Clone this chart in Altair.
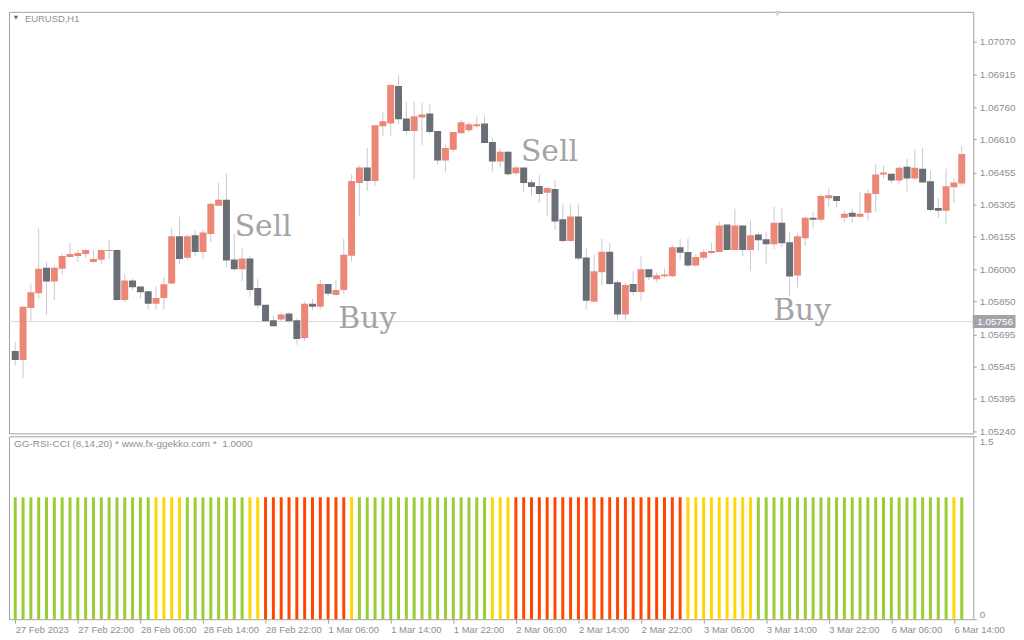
import altair as alt
import pandas as pd

# ---------------- data (EURUSD, H1) ----------------
OPEN = [1.05618, 1.05576, 1.05820, 1.05889, 1.06009, 1.05944, 1.06004, 1.06059, 1.06064, 1.06073,
        1.06036, 1.06046, 1.06087, 1.06092, 1.05857, 1.05949, 1.05921, 1.05898, 1.05839, 1.05866,
        1.05935, 1.06156, 1.06055, 1.06161, 1.06082, 1.06167, 1.06300, 1.06328, 1.06047, 1.06001,
        1.06052, 1.05914, 1.05835, 1.05762, 1.05766, 1.05794, 1.05762, 1.05679, 1.05840, 1.05826,
        1.05932, 1.05881, 1.05904, 1.06065, 1.06406, 1.06479, 1.06415, 1.06673, 1.06686, 1.06861,
        1.06709, 1.06650, 1.06714, 1.06732, 1.06650, 1.06512, 1.06562, 1.06640, 1.06654, 1.06673,
        1.06686, 1.06599, 1.06507, 1.06553, 1.06452, 1.06479, 1.06410, 1.06392, 1.06360, 1.06378,
        1.06236, 1.06134, 1.06249, 1.06056, 1.05849, 1.05987, 1.06084, 1.05941, 1.05789, 1.05932,
        1.05895, 1.06001, 1.05955, 1.05969, 1.05969, 1.06105, 1.06082, 1.06019, 1.06055, 1.06078,
        1.06082, 1.06211, 1.06092, 1.06207, 1.06092, 1.06165, 1.06142, 1.06119, 1.06220, 1.06128,
        1.05972, 1.06147, 1.06243, 1.06234, 1.06335, 1.06345, 1.06243, 1.06266, 1.06248, 1.06266,
        1.06354, 1.06446, 1.06450, 1.06418, 1.06483, 1.06427, 1.06473, 1.06414, 1.06289, 1.06276,
        1.06386, 1.06404]
HIGH = [1.05659, 1.05829, 1.05935, 1.06193, 1.06036, 1.06018, 1.06073, 1.06124, 1.06092, 1.06096,
        1.06092, 1.06092, 1.06142, 1.06096, 1.05981, 1.05958, 1.05921, 1.05898, 1.05921, 1.05963,
        1.06197, 1.06248, 1.06165, 1.06184, 1.06188, 1.06314, 1.06406, 1.06452, 1.06167, 1.06098,
        1.06065, 1.05955, 1.05835, 1.05785, 1.05799, 1.05799, 1.05771, 1.05849, 1.05863, 1.05950,
        1.05932, 1.05950, 1.06144, 1.06447, 1.06489, 1.06571, 1.06677, 1.06737, 1.06870, 1.06912,
        1.06788, 1.06788, 1.06783, 1.06778, 1.06650, 1.06585, 1.06645, 1.06705, 1.06691, 1.06719,
        1.06723, 1.06617, 1.06567, 1.06558, 1.06489, 1.06479, 1.06424, 1.06443, 1.06387, 1.06420,
        1.06305, 1.06305, 1.06305, 1.06098, 1.06070, 1.06144, 1.06125, 1.05950, 1.05937, 1.05992,
        1.06061, 1.06001, 1.05987, 1.06004, 1.06115, 1.06142, 1.06147, 1.06073, 1.06096, 1.06128,
        1.06225, 1.06211, 1.06285, 1.06207, 1.06230, 1.06179, 1.06179, 1.06294, 1.06289, 1.06174,
        1.06170, 1.06248, 1.06271, 1.06354, 1.06381, 1.06345, 1.06276, 1.06285, 1.06363, 1.06377,
        1.06496, 1.06487, 1.06450, 1.06487, 1.06519, 1.06565, 1.06570, 1.06464, 1.06335, 1.06473,
        1.06427, 1.06579]
LOW = [1.05550, 1.05489, 1.05753, 1.05862, 1.05788, 1.05857, 1.05977, 1.06055, 1.06036, 1.06055,
       1.06032, 1.06027, 1.06050, 1.05852, 1.05848, 1.05903, 1.05862, 1.05811, 1.05811, 1.05811,
       1.05931, 1.06027, 1.06046, 1.06064, 1.06050, 1.06130, 1.06299, 1.06010, 1.05992, 1.05946,
       1.05872, 1.05817, 1.05757, 1.05734, 1.05757, 1.05753, 1.05647, 1.05665, 1.05808, 1.05812,
       1.05877, 1.05877, 1.05886, 1.06038, 1.06249, 1.06369, 1.06392, 1.06627, 1.06627, 1.06682,
       1.06636, 1.06424, 1.06585, 1.06636, 1.06493, 1.06456, 1.06553, 1.06640, 1.06645, 1.06667,
       1.06594, 1.06461, 1.06479, 1.06438, 1.06443, 1.06364, 1.06346, 1.06314, 1.06254, 1.06185,
       1.06125, 1.06130, 1.06042, 1.05812, 1.05849, 1.05927, 1.05927, 1.05762, 1.05762, 1.05880,
       1.05854, 1.05950, 1.05941, 1.05960, 1.05964, 1.06046, 1.06010, 1.06015, 1.06046, 1.06073,
       1.06082, 1.06092, 1.06092, 1.06064, 1.05995, 1.06092, 1.06023, 1.06096, 1.06105, 1.05875,
       1.05917, 1.06110, 1.06193, 1.06225, 1.06294, 1.06294, 1.06220, 1.06220, 1.06243, 1.06230,
       1.06271, 1.06427, 1.06404, 1.06400, 1.06363, 1.06418, 1.06409, 1.06271, 1.06243, 1.06211,
       1.06312, 1.06395]
CLOSE = [1.05576, 1.05825, 1.05894, 1.06004, 1.05944, 1.06009, 1.06064, 1.06073, 1.06078, 1.06092,
         1.06050, 1.06092, 1.06092, 1.05857, 1.05949, 1.05917, 1.05894, 1.05839, 1.05866, 1.05931,
         1.06156, 1.06050, 1.06156, 1.06082, 1.06174, 1.06309, 1.06328, 1.06042, 1.06001, 1.06052,
         1.05904, 1.05831, 1.05757, 1.05734, 1.05789, 1.05757, 1.05674, 1.05840, 1.05826, 1.05932,
         1.05886, 1.05904, 1.06070, 1.06415, 1.06479, 1.06415, 1.06677, 1.06696, 1.06866, 1.06705,
         1.06650, 1.06719, 1.06728, 1.06645, 1.06512, 1.06571, 1.06645, 1.06691, 1.06682, 1.06682,
         1.06594, 1.06507, 1.06553, 1.06447, 1.06479, 1.06406, 1.06387, 1.06355, 1.06383, 1.06226,
         1.06134, 1.06249, 1.06052, 1.05854, 1.05992, 1.06084, 1.05932, 1.05789, 1.05927, 1.05895,
         1.06001, 1.05964, 1.05973, 1.05977, 1.06105, 1.06079, 1.06019, 1.06059, 1.06082, 1.06087,
         1.06207, 1.06092, 1.06207, 1.06092, 1.06161, 1.06138, 1.06119, 1.06220, 1.06124, 1.05967,
         1.06156, 1.06243, 1.06234, 1.06345, 1.06349, 1.06322, 1.06262, 1.06248, 1.06262, 1.06358,
         1.06446, 1.06455, 1.06418, 1.06478, 1.06427, 1.06478, 1.06409, 1.06280, 1.06276, 1.06391,
         1.06409, 1.06542]

# GG-RSI-CCI histogram state per bar (G = bullish, Y = neutral, R = bearish)
SIGNAL_STATE = (
    "G G G G G G G G G G G G G G G G G G Y Y Y Y G G G G G G G G Y Y".split() +
    "R R R R R R R R R R R Y".split() +
    "G G G G G G G G G G G G G G G G G Y Y Y".split() +
    "R R R R R R R R R R R R R R R R R R R R R R".split() +
    "Y Y Y Y Y Y Y Y Y".split() +
    "G G G G G G G G G G G G G G G G G G G G G G G G G Y G".split()
)
INDICATOR_LEVEL = 1.0

TIME_TICKS = [0, 8, 16, 24, 32, 40, 48, 56, 64, 72, 80, 88, 96, 104, 112, 120]
TIME_LABELS = ["27 Feb 2023", "27 Feb 22:00", "28 Feb 06:00", "28 Feb 14:00", "28 Feb 22:00",
               "1 Mar 06:00", "1 Mar 14:00", "1 Mar 22:00", "2 Mar 06:00", "2 Mar 14:00",
               "2 Mar 22:00", "3 Mar 06:00", "3 Mar 14:00", "3 Mar 22:00", "6 Mar 06:00",
               "6 Mar 14:00"]
PRICE_TICKS = [1.07070, 1.06915, 1.06760, 1.06610, 1.06455, 1.06305, 1.06155, 1.06000,
               1.05850, 1.05695, 1.05545, 1.05395, 1.05240]
IND_TICKS = [0, 1.5]
IND_TICK_LABELS = ["0", "1.5"]
LAST_PRICE = 1.05756

SIGNAL_TEXT = ["Sell", "Buy", "Sell", "Buy"]
SIGNAL_BAR = [31.7, 45.0, 68.3, 100.6]
SIGNAL_PRICE = [1.06156, 1.05728, 1.06510, 1.05765]

# ---------------- styling ----------------
SALMON = "#EC8677"
DARK = "#6A6E76"
WICK = "#C8CAD2"
GREEN, YELLOW, RED = "#9ACD32", "#FFD700", "#FF4500"
LABEL = "#8E8E96"
BORDER = "#A0A0A4"
FONT = "Liberation Sans"

W, H1, H2 = 970, 424, 184
X_DOMAIN = [-0.1625, 121.8375]
P_DOMAIN = [1.052314, 1.072094]

n = len(OPEN)
candles = pd.DataFrame({"i": list(range(n)), "open": OPEN, "high": HIGH,
                        "low": LOW, "close": CLOSE})
candles["dir"] = ["bull" if c >= o else "bear" for o, c in zip(OPEN, CLOSE)]

xs = alt.Scale(domain=X_DOMAIN, nice=False, zero=False)
ys = alt.Scale(domain=P_DOMAIN, nice=False, zero=False)
yaxis = alt.Axis(orient="right", values=PRICE_TICKS, format=".5f", tickSize=3,
                 tickColor=BORDER, labelColor=LABEL, labelFont=FONT, labelFontSize=10,
                 labelPadding=3, domain=False, grid=False, title=None, labelOverlap=False)

base = alt.Chart(candles)
last_line = alt.Chart(pd.DataFrame({"p": [LAST_PRICE]})).mark_rule(
    color="#D9DADF", strokeWidth=1).encode(y=alt.Y("p:Q", scale=ys, axis=yaxis))

wicks = base.mark_rule(color=WICK, strokeWidth=1, clip=True).encode(
    x=alt.X("i:Q", scale=xs, axis=None),
    y=alt.Y("low:Q", scale=ys, axis=yaxis),
    y2="high:Q",
)
bodies = base.mark_bar(size=7, clip=True).encode(
    x=alt.X("i:Q", scale=xs, axis=None),
    y=alt.Y("open:Q", scale=ys, axis=yaxis),
    y2="close:Q",
    color=alt.Color("dir:N", scale=alt.Scale(domain=["bull", "bear"], range=[SALMON, DARK]),
                    legend=None),
)

signals = alt.Chart(pd.DataFrame({"t": SIGNAL_TEXT, "x": SIGNAL_BAR, "y": SIGNAL_PRICE})).mark_text(
    font="DejaVu Serif", fontSize=30, color="#A4A4A6", align="center", baseline="alphabetic"
).encode(
    x=alt.X("x:Q", scale=xs, axis=None),
    y=alt.Y("y:Q", scale=ys, axis=yaxis),
    text="t:N",
)

price_box = alt.Chart(pd.DataFrame({"p": [LAST_PRICE]})).mark_tick(
    orient="horizontal", size=43, thickness=13, color="#A3A3AA", opacity=1
).encode(x=alt.value(W + 21), y=alt.Y("p:Q", scale=ys, axis=yaxis))
price_text = alt.Chart(pd.DataFrame({"p": [LAST_PRICE]})).mark_text(
    font=FONT, fontSize=10, color="white", align="center", baseline="middle"
).encode(x=alt.value(W + 22), y=alt.Y("p:Q", scale=ys, axis=yaxis),
         text=alt.Text("p:Q", format=".5f"))

title_tri = alt.Chart(pd.DataFrame({"t": [0]})).mark_point(
    shape="triangle-down", filled=True, size=22, color="#707070", opacity=1
).encode(x=alt.value(7), y=alt.value(6))
title_txt = alt.Chart(pd.DataFrame({"t": ["EURUSD,H1"]})).mark_text(
    font=FONT, fontSize=9.5, color="#8F8F96", align="left", baseline="middle"
).encode(x=alt.value(16), y=alt.value(7), text="t:N")
shift_tri = alt.Chart(pd.DataFrame({"t": [0]})).mark_point(
    shape="triangle-down", filled=True, size=40, color="#D4D4D8", opacity=1
).encode(x=alt.value(773), y=alt.value(2))

top = alt.layer(last_line, wicks, bodies, signals, price_box, price_text,
                title_tri, title_txt, shift_tri).properties(width=W, height=H1)

# ---------------- indicator panel ----------------
STATE_NAME = {"G": "up", "Y": "flat", "R": "down"}
ind = pd.DataFrame({"i": list(range(len(SIGNAL_STATE))),
                    "state": [STATE_NAME[s] for s in SIGNAL_STATE],
                    "v": [INDICATOR_LEVEL] * len(SIGNAL_STATE)})

label_expr = ("[" + ",".join("'%s'" % s for s in TIME_LABELS) + "][indexof(["
              + ",".join(str(t) for t in TIME_TICKS) + "], datum.value)]")
ind_label_expr = ("[" + ",".join("'%s'" % s for s in IND_TICK_LABELS) + "][indexof(["
                  + ",".join(str(t) for t in IND_TICKS) + "], datum.value)]")

xaxis = alt.Axis(values=TIME_TICKS, labelExpr=label_expr, tickSize=4, tickColor=BORDER,
                 labelAlign="left", labelBaseline="top", labelPadding=1, labelColor=LABEL,
                 labelFont=FONT, labelFontSize=9.5, labelFlush=False, labelOverlap=False,
                 domain=False, grid=False, title=None, labelOffset=0)

ind_bars = alt.Chart(ind).mark_bar(size=3).encode(
    x=alt.X("i:Q", scale=xs, axis=xaxis),
    y=alt.Y("v:Q", scale=alt.Scale(domain=[0, 1.5], nice=False),
            axis=alt.Axis(orient="right", values=IND_TICKS, labelExpr=ind_label_expr,
                          labelFlush=True, tickSize=3, tickColor=BORDER, labelColor=LABEL,
                          labelFont=FONT, labelFontSize=10, labelPadding=3, domain=False,
                          grid=False, title=None)),
    color=alt.Color("state:N", scale=alt.Scale(domain=["up", "flat", "down"],
                                               range=[GREEN, YELLOW, RED]), legend=None),
)
ind_title = alt.Chart(pd.DataFrame({"t": ["GG-RSI-CCI (8,14,20) * www.fx-ggekko.com *\u00a0 1.0000"]})).mark_text(
    font=FONT, fontSize=10, color="#8F8F96", align="left", baseline="middle"
).encode(x=alt.value(5), y=alt.value(8), text="t:N")

bottom = alt.layer(ind_bars, ind_title).properties(width=W, height=H2)

chart = alt.vconcat(top, bottom, spacing=3, bounds="flush").resolve_scale(
    color="independent", y="independent"
).properties(
    padding=0, background="white"
).configure_view(stroke=BORDER, strokeWidth=1)

chart.save("out.html", embed_options={"renderer": "svg", "actions": False})
